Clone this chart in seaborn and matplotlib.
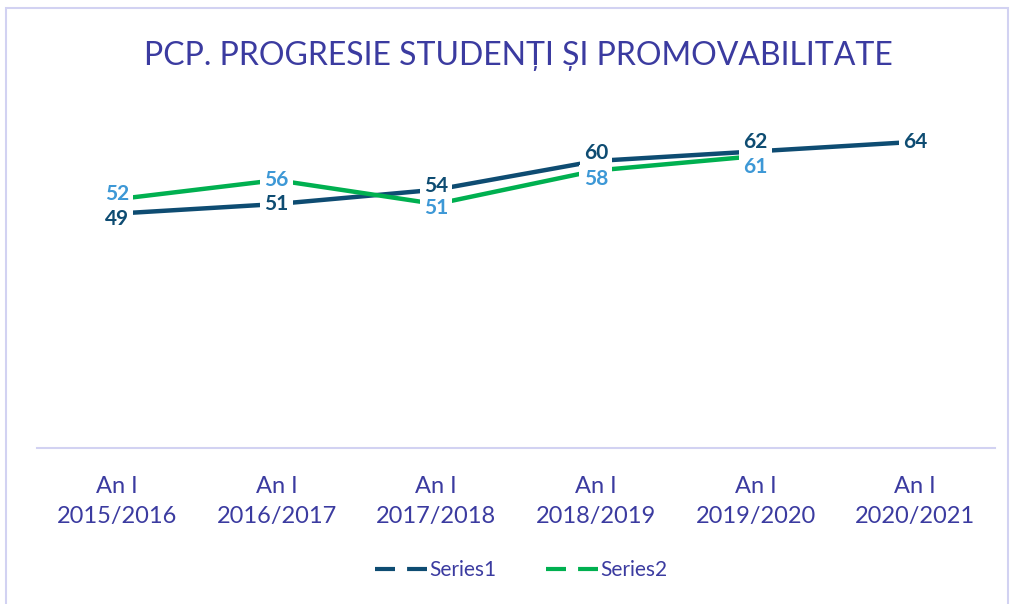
import pandas as pd
import matplotlib
matplotlib.use("Agg")
import matplotlib.pyplot as plt
import seaborn as sns
from matplotlib.lines import Line2D
from matplotlib.patches import Rectangle

# chart values
years = ["An I\n2015/2016", "An I\n2016/2017", "An I\n2017/2018",
         "An I\n2018/2019", "An I\n2019/2020", "An I\n2020/2021"]
series1 = [49, 51, 54, 60, 62, 64]
series2 = [52, 56, 51, 58, 61]
series_names = ["Series1", "Series2"]

C1 = "#0E4C72"
C2 = "#00B050"
C2_LABEL = "#3D98D6"
TXT = "#3B3BA0"
GRID = "#D2D2F2"

sns.set_theme(style="white")
plt.rcParams["font.family"] = ["Lato", "DejaVu Sans"]

df = pd.concat([
    pd.DataFrame({"year": years, "value": series1, "series": series_names[0]}),
    pd.DataFrame({"year": years[:len(series2)], "value": series2, "series": series_names[1]}),
], ignore_index=True)

fig = plt.figure(figsize=(10.12, 6.04), dpi=100)
ax = fig.add_axes([0.0366, 0.258, 0.9466, 0.634])

sns.lineplot(data=df, x="year", y="value", hue="series", sort=False,
             palette={series_names[0]: C1, series_names[1]: C2},
             linewidth=3.2, legend=False, ax=ax)

# data labels; nudge the ones that sit on top of each other
nudge1 = [-4, 0, 3, 6, 7, 0]
nudge2 = [4, 0, -3, -6, -8]
box = dict(boxstyle="square,pad=0.2", fc="white", ec="none")
for i, v in enumerate(series1):
    ax.annotate(str(v), (i, v), xytext=(0, nudge1[i]), textcoords="offset points",
                ha="center", va="center", fontsize=15, fontweight="bold",
                color=C1, zorder=5, bbox=box)
for i, v in enumerate(series2):
    ax.annotate(str(v), (i, v), xytext=(0, nudge2[i]), textcoords="offset points",
                ha="center", va="center", fontsize=15, fontweight="bold",
                color=C2_LABEL, zorder=6, bbox=box)

ax.set_xlim(-0.5, len(years) - 0.5)
ax.set_ylim(0, 80)
ax.set_yticks([])
ax.set_xlabel("")
ax.set_ylabel("")
ax.tick_params(axis="x", length=0, labelsize=17, labelcolor=TXT, pad=20)
for lbl in ax.get_xticklabels():
    lbl.set_linespacing(1.55)
for s in ["top", "left", "right"]:
    ax.spines[s].set_visible(False)
ax.spines["bottom"].set_color(GRID)
ax.spines["bottom"].set_linewidth(1.5)

fig.text(0.512, 0.907, "PCP. PROGRESIE STUDENȚI ȘI PROMOVABILITATE",
         ha="center", va="center", fontsize=23, color=TXT)

handles = [Line2D([0], [0], color=C1, lw=3, linestyle=(0, (4.8, 2.9))),
           Line2D([0], [0], color=C2, lw=3, linestyle=(0, (4.8, 2.9)))]
leg = fig.legend(handles, series_names, loc="center", bbox_to_anchor=(0.515, 0.056),
                 ncol=2, frameon=False, fontsize=15, handlelength=2.5,
                 handletextpad=0.1, columnspacing=2.4)
for t in leg.get_texts():
    t.set_color(TXT)

# outer chart border
fig.patches.append(Rectangle((0.006, -0.05), 0.99, 1.036, transform=fig.transFigure,
                             fill=False, ec=GRID, lw=1.5))

fig.savefig("out.png", dpi=100)
